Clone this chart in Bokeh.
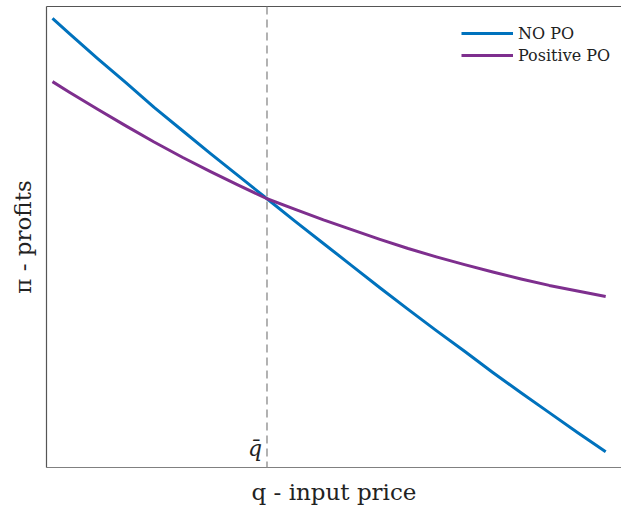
from bokeh.plotting import figure
from bokeh.models import Span, LinearAxis, Range1d, Legend, LegendItem, ColumnDataSource
from bokeh.core.properties import value
from bokeh.embed import file_html
from bokeh.resources import INLINE

# data
q = [0.1, 0.25, 0.5, 0.75, 1.0, 1.25, 1.5, 1.75, 2.0, 2.25, 2.5,
     2.75, 3.0, 3.25, 3.5, 3.75, 4.0, 4.25, 4.5, 4.75, 5.0]
profit_no_po = [9.74, 9.41, 8.87, 8.35, 7.81, 7.31, 6.81, 6.32, 5.83, 5.34, 4.86,
                4.38, 3.90, 3.43, 2.97, 2.52, 2.06, 1.62, 1.19, 0.76, 0.34]
profit_positive_po = [8.37, 8.14, 7.77, 7.41, 7.06, 6.73, 6.42, 6.12, 5.83, 5.60, 5.37,
                      5.16, 4.95, 4.75, 4.57, 4.40, 4.24, 4.09, 3.95, 3.83, 3.71]
q_bar = 2.0
series_names = ["NO PO", "Positive PO"]
x_label = "q - input price"
y_label = "π - profits"
qbar_label = "q̄"

BLUE = "#0072BD"
PURPLE = "#7E2F8E"
SERIF = "DejaVu Serif"

p = figure(width=621, height=508, output_backend="svg", toolbar_location=None,
           x_range=Range1d(0.047, 5.14), y_range=Range1d(0, 10),
           min_border_left=46, min_border_right=0, min_border_top=6, min_border_bottom=41)
p.grid.visible = False
p.outline_line_color = None
p.background_fill_color = "white"

for ax in (p.xaxis[0], p.yaxis[0]):
    ax.ticker = []
    ax.major_tick_line_color = None
    ax.minor_tick_line_color = None
    ax.major_tick_out = 0
    ax.major_tick_in = 0
    ax.major_label_text_font_size = "0px"
    ax.axis_line_color = "#555555"
    ax.axis_line_width = 1.2
    ax.axis_label_text_font = SERIF
    ax.axis_label_text_font_style = "normal"
    ax.axis_label_text_font_size = "23px"
    ax.axis_label_text_color = "#222222"
    ax.axis_label_standoff = 11
p.xaxis[0].axis_label = x_label
p.yaxis[0].axis_label = y_label
p.xaxis[0].axis_line_color = "#808080"

top = LinearAxis(ticker=[], major_tick_line_color=None, minor_tick_line_color=None,
                 major_tick_out=0, major_tick_in=0, major_label_text_font_size="0px",
                 axis_line_color="#555555", axis_line_width=1.2)
p.add_layout(top, "above")

src = ColumnDataSource(dict(q=q, a=profit_no_po, b=profit_positive_po))
r1 = p.line("q", "a", source=src, line_color=BLUE, line_width=3, line_join="round")
r2 = p.line("q", "b", source=src, line_color=PURPLE, line_width=3, line_join="round")

p.add_layout(Span(location=q_bar, dimension="height", line_color="#999999",
                  line_width=1.5, line_dash="8 5"))

p.text(x=[q_bar], y=[0.15], text=[qbar_label], text_font=value(SERIF),
       text_font_style="italic", text_font_size="22px", text_color="#222222",
       text_align="right", text_baseline="bottom", x_offset=-5)

legend = Legend(items=[LegendItem(label=series_names[0], renderers=[r1]),
                       LegendItem(label=series_names[1], renderers=[r2])],
                location=(415, 402), border_line_color=None, background_fill_alpha=0,
                label_text_font=SERIF, label_text_font_size="16px", label_text_color="#222222",
                glyph_width=52, glyph_height=20, spacing=2, padding=8, margin=0,
                label_standoff=5)
p.add_layout(legend)

open("out.html", "w").write(file_html(p, INLINE))
